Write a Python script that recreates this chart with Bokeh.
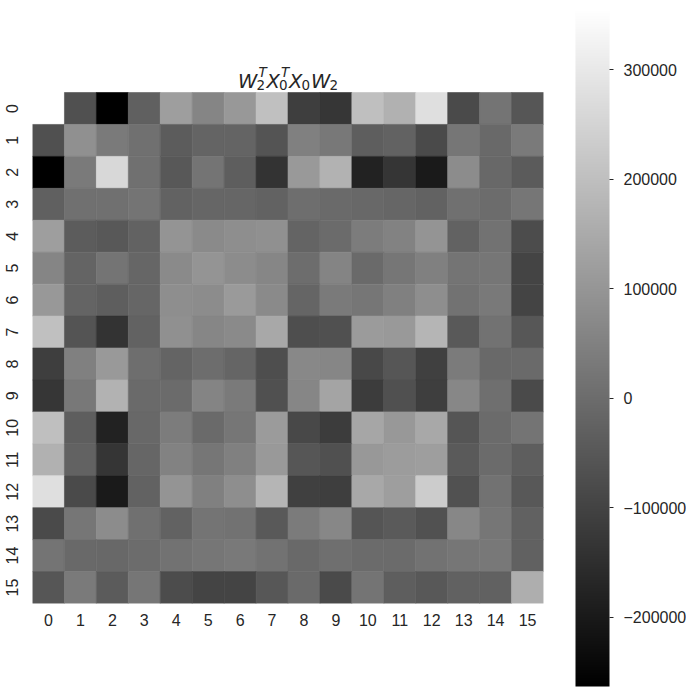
import numpy as np
from bokeh.plotting import figure
from bokeh.models import ColumnDataSource, LinearColorMapper, FixedTicker, Range1d, ColorBar
from bokeh.core.properties import value
from bokeh.transform import transform
from bokeh.embed import file_html
from bokeh.resources import INLINE

labels = list(range(16))

row_0 = [356000, -69000, -263000, -30000, 121000, 60000, 106000, 203000, -112000, -132000, 201000, 167000, 278000, -83000, 19000, -54000]
row_1 = [-69000, 87000, 33000, 9000, -40000, -20000, -20000, -59000, 48000, 28000, -35000, -25000, -83000, 23000, -8000, 33000]
row_2 = [-263000, 33000, 261000, 9000, -49000, 19000, -35000, -139000, 108000, 169000, -180000, -134000, -200000, 77000, -11000, -42000]
row_3 = [-30000, 9000, 9000, 19000, -25000, -15000, -15000, -25000, 4000, -6000, -11000, -15000, -25000, 9000, -1000, 23000]
row_4 = [121000, -40000, -49000, -25000, 96000, 72000, 82000, 87000, -20000, -3000, 38000, 53000, 96000, -25000, 14000, -79000]
row_5 = [60000, -20000, 19000, -15000, 72000, 96000, 77000, 62000, 2000, 57000, -6000, 23000, 48000, 19000, 23000, -98000]
row_6 = [106000, -20000, -35000, -15000, 82000, 77000, 111000, 72000, -18000, 33000, 23000, 48000, 82000, 14000, 31000, -98000]
row_7 = [203000, -59000, -139000, -25000, 87000, 62000, 72000, 145000, -74000, -69000, 113000, 108000, 176000, -47000, 14000, -52000]
row_8 = [-112000, 48000, 108000, 4000, -20000, 2000, -18000, -74000, 67000, 62000, -88000, -54000, -108000, 36000, -8000, -6000]
row_9 = [-132000, 28000, 169000, -6000, -3000, 57000, 33000, -69000, 62000, 135000, -117000, -69000, -112000, 65000, 6000, -83000]
row_10 = [201000, -35000, -180000, -11000, 38000, -6000, 23000, 113000, -88000, -117000, 140000, 106000, 145000, -57000, -3000, 19000]
row_11 = [167000, -25000, -134000, -15000, 53000, 23000, 48000, 108000, -54000, -69000, 106000, 116000, 121000, -44000, -3000, -35000]
row_12 = [278000, -83000, -200000, -25000, 96000, 48000, 82000, 176000, -108000, -112000, 145000, 121000, 232000, -66000, 14000, -49000]
row_13 = [-83000, 23000, 77000, 9000, -25000, 19000, 14000, -47000, 36000, 65000, -57000, -44000, -66000, 65000, 23000, -27000]
row_14 = [19000, -8000, -11000, -1000, 14000, 23000, 31000, 14000, -8000, 6000, -3000, -3000, 14000, 23000, 28000, -27000]
row_15 = [-54000, 33000, -42000, 23000, -79000, -98000, -98000, -52000, -6000, -83000, 19000, -35000, -49000, -27000, -27000, 159000]

matrix_rows = [row_0, row_1, row_2, row_3, row_4, row_5, row_6, row_7,
               row_8, row_9, row_10, row_11, row_12, row_13, row_14, row_15]

cbar_ticks = [-200000, -100000, 0, 100000, 200000, 300000]
cbar_tick_labels = ["\u2212200000", "\u2212100000", "0", "100000", "200000", "300000"]

# title  W_2^T X_0^T X_0 W_2  as text pieces: (text, role)
title_parts = [("W", "main"), ("2", "sub"), ("T", "sup"),
               ("X", "main"), ("0", "sub"), ("T", "sup"),
               ("X", "main"), ("0", "sub"),
               ("W", "main"), ("2", "sub")]

TEXT = "#262626"
FONT = "Liberation Sans"
FS = "16px"

GRAY = ["#%02x%02x%02x" % (i, i, i) for i in range(256)]
vmin = min(min(r) for r in matrix_rows)
vmax = max(max(r) for r in matrix_rows)
mapper = LinearColorMapper(palette=GRAY, low=vmin, high=vmax)

xs, ys, vs = [], [], []
for i, r in enumerate(matrix_rows):
    for j, v in enumerate(r):
        xs.append(labels[j])
        ys.append(labels[i])
        vs.append(v)
src = ColumnDataSource(dict(x=xs, y=ys, v=vs))

# page layout (pixels from top-left of the figure)
FL, FT, FR, FB = 32, 92, 543, 603          # heatmap area
TOP = 50                                   # top of plotting frame (room for title)
CB_L, CB_R, CB_T, CB_B = 575, 609, 8, 686  # colorbar bar
W, H = 686, 690
CELL = (FR - FL) / 16.0

p = figure(width=W, height=H,
           x_range=Range1d(-0.5, 15.5),
           y_range=Range1d(15.5, -0.5 - (FT - TOP) / CELL),
           min_border_left=FL, min_border_right=W - FR, min_border_top=TOP, min_border_bottom=H - FB,
           output_backend="svg", toolbar_location=None)
p.rect(x="x", y="y", width=1, height=1, source=src,
       fill_color=transform("v", mapper), line_color=transform("v", mapper), line_width=0.6)

p.grid.visible = False
p.outline_line_color = None
for ax in (p.xaxis[0], p.yaxis[0]):
    ax.ticker = FixedTicker(ticks=labels)
    ax.axis_line_color = None
    ax.major_tick_line_color = None
    ax.minor_tick_line_color = None
    ax.major_label_text_font = FONT
    ax.major_label_text_font_size = FS
    ax.major_label_text_color = TEXT
p.xaxis.major_label_standoff = 4
p.yaxis.major_label_standoff = 9
p.yaxis.major_label_orientation = "vertical"

# title layout: pixel positions of each piece
MAIN, SCRIPT = 19.5, 13.5
BASE, SUB_BASE, SUP_BASE = 80.5, 84, 71
adv = {"W": 0.989 * MAIN, "X": 0.685 * MAIN}
tx, ty, tt, tsz, tst = [], [], [], [], []
cur = 237.5
pending = 0.0
for txt, role in title_parts:
    if role == "main":
        cur += pending
        pending = 0.0
        px, py, sz, st = cur, BASE, MAIN, "italic"
        cur += adv[txt]
    elif role == "sub":
        px, py, sz, st = cur - 0.8, SUB_BASE, SCRIPT, "normal"
        pending = max(pending, 8.6)
    else:
        px, py, sz, st = cur + 1.2, SUP_BASE, SCRIPT, "italic"
        pending = max(pending, 9.2)
    tx.append((px - FL) / CELL - 0.5)
    ty.append((py - FT) / CELL - 0.5)
    tt.append(txt)
    tsz.append("%.1fpx" % sz)
    tst.append(st)
tsrc = ColumnDataSource(dict(x=tx, y=ty, text=tt, size=tsz, style=tst))
p.text(x="x", y="y", text="text", source=tsrc, text_font=value("DejaVu Sans"),
       text_font_size="size", text_font_style="style", text_color=TEXT,
       text_align="left", text_baseline="alphabetic")

cb = ColorBar(color_mapper=mapper, orientation="vertical",
              width=CB_R - CB_L, height=CB_B - CB_T,
              location=(CB_L - FL, FB - CB_B), padding=0, margin=0,
              ticker=FixedTicker(ticks=cbar_ticks),
              major_label_overrides={t: s for t, s in zip(cbar_ticks, cbar_tick_labels)},
              major_tick_in=0, major_tick_out=4, major_tick_line_color=TEXT, major_tick_line_width=1,
              minor_tick_line_color=None, label_standoff=10,
              major_label_text_font=FONT, major_label_text_font_size=FS, major_label_text_color=TEXT,
              bar_line_color=None, border_line_color=None, background_fill_color=None)
p.add_layout(cb)

open("out.html", "w").write(file_html(p, INLINE))
